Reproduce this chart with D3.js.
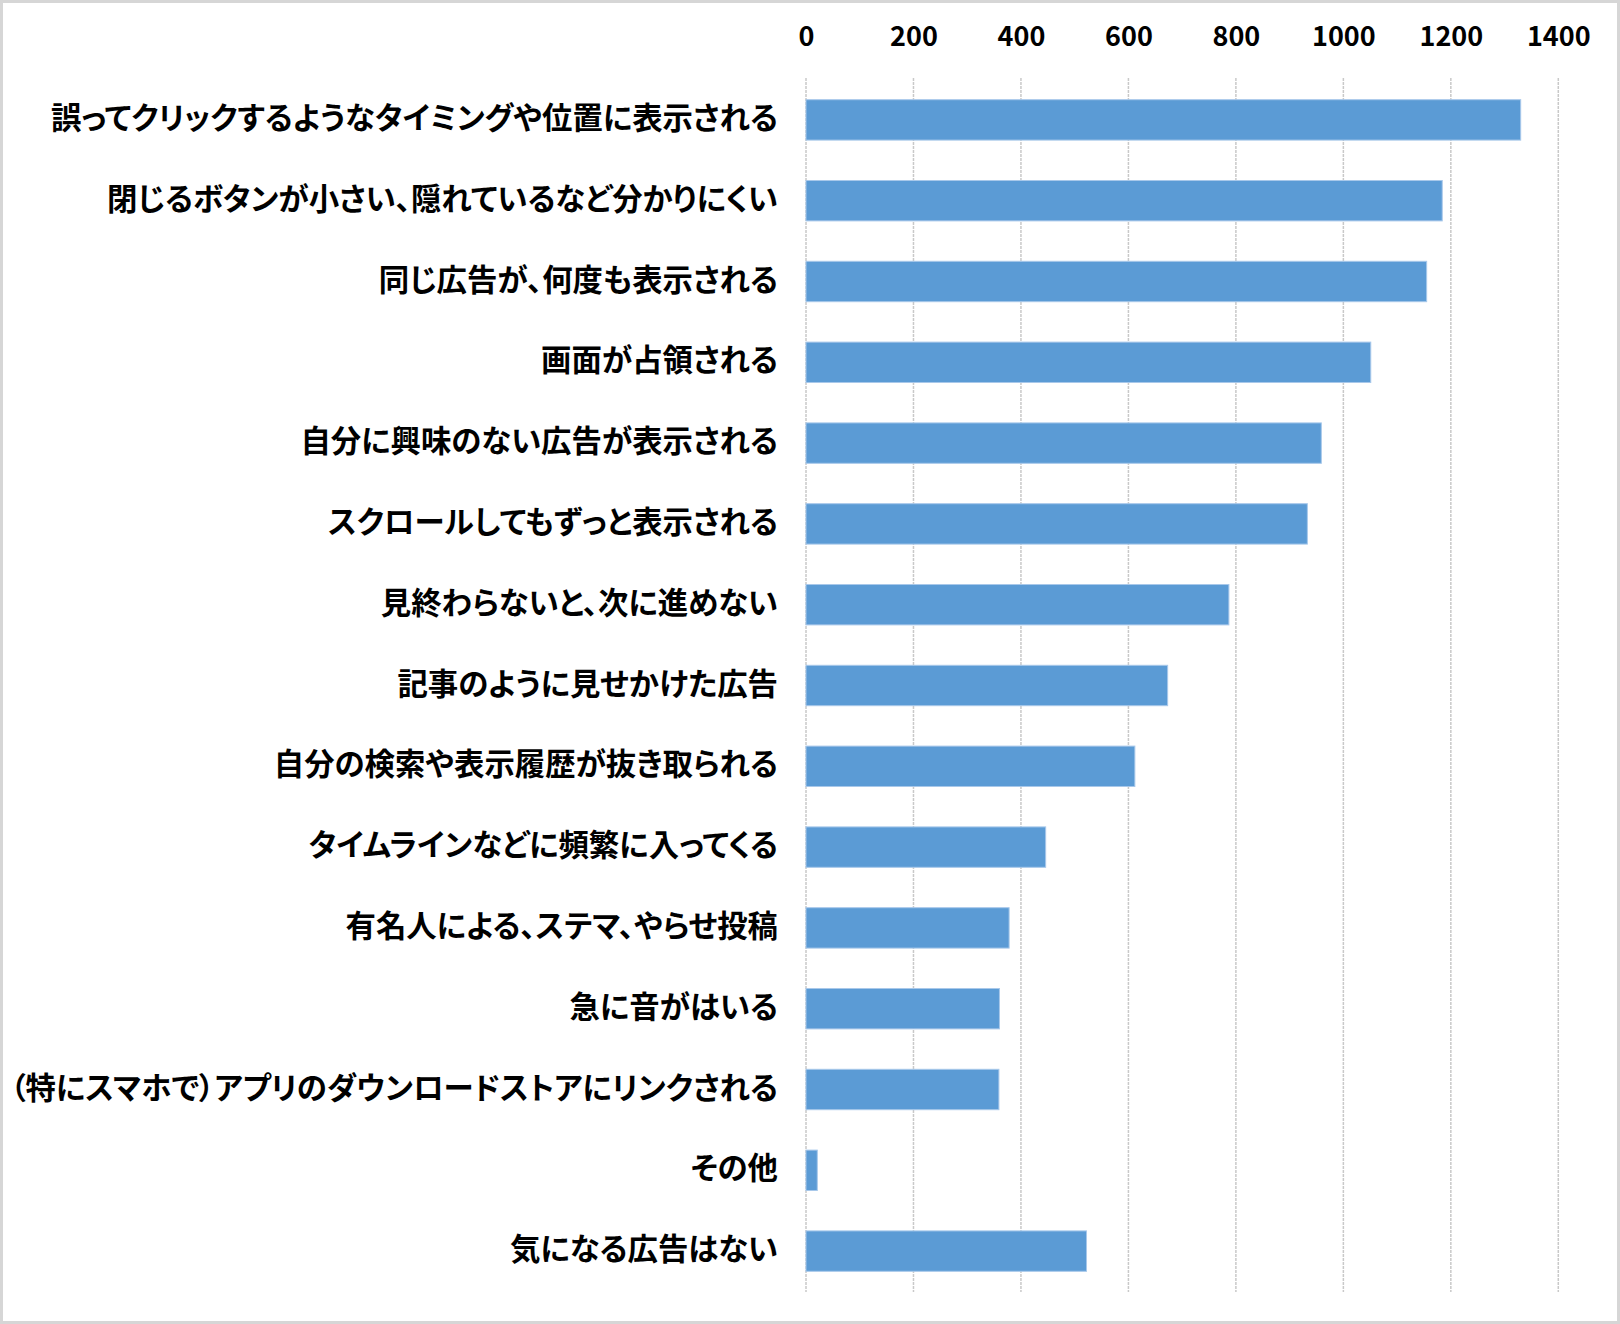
<!DOCTYPE html>
<html>
<head>
<meta charset="utf-8">
<script src="https://cdn.jsdelivr.net/npm/d3@7"></script>
<style>
  body { margin: 0; background: #fff; }
  svg text { font-family: "Noto Sans CJK JP", "Noto Sans", sans-serif; font-weight: bold; fill: #000; }
  .cat text { font-feature-settings: "palt"; }
</style>
</head>
<body>
<svg id="chart" width="1620" height="1324"></svg>
<script>
// categories, top to bottom
var categories = [
  "誤ってクリックするようなタイミングや位置に表示される",
  "閉じるボタンが小さい、隠れているなど分かりにくい",
  "同じ広告が、何度も表示される",
  "画面が占領される",
  "自分に興味のない広告が表示される",
  "スクロールしてもずっと表示される",
  "見終わらないと、次に進めない",
  "記事のように見せかけた広告",
  "自分の検索や表示履歴が抜き取られる",
  "タイムラインなどに頻繁に入ってくる",
  "有名人による、ステマ、やらせ投稿",
  "急に音がはいる",
  "（特にスマホで）アプリのダウンロードストアにリンクされる",
  "その他",
  "気になる広告はない"
];
var counts = [1330, 1184, 1155, 1051, 959, 933, 787, 673, 612, 446, 378, 360, 359, 21, 522];
var tickValues = [0, 200, 400, 600, 800, 1000, 1200, 1400];

var svg = d3.select("#chart"),
    width = +svg.attr("width"),
    height = +svg.attr("height");

// outer frame
svg.append("rect")
    .attr("x", 1.5).attr("y", 1.5)
    .attr("width", width - 3).attr("height", height - 3)
    .attr("fill", "#fff")
    .attr("stroke", "#d6d6d6")
    .attr("stroke-width", 3);

var x = d3.scaleLinear().domain([0, 1400]).range([806, 1558.3]);
var y = d3.scaleBand().domain(categories).range([79.5, 1291.5]).paddingInner(0.5).paddingOuter(0.25);

// gridlines
svg.append("g")
    .attr("class", "grid")
  .selectAll("line")
  .data(tickValues)
  .enter().append("line")
    .attr("x1", function(d) { return x(d); })
    .attr("x2", function(d) { return x(d); })
    .attr("y1", 78)
    .attr("y2", 1292)
    .attr("stroke", "#c9c9c9")
    .attr("stroke-width", 1.5)
    .attr("stroke-dasharray", "3,1");

// top axis labels
var xAxis = svg.append("g")
    .attr("transform", "translate(0,36)")
    .call(d3.axisTop(x).tickValues(tickValues).tickSize(0).tickPadding(0).tickFormat(d3.format("d")));
xAxis.select(".domain").remove();
xAxis.selectAll("text")
    .attr("dy", "0.36em")
    .style("font-size", "27px")
    .style("font-family", "'Noto Sans CJK JP', sans-serif")
    .style("font-weight", "bold")
    .attr("fill", "#000");

// bars
svg.append("g")
    .attr("class", "bars")
  .selectAll("rect")
  .data(counts)
  .enter().append("rect")
    .attr("x", x(0))
    .attr("y", function(d, i) { return y(categories[i]); })
    .attr("width", function(d) { return x(d) - x(0); })
    .attr("height", y.bandwidth())
    .attr("fill", "#5b9bd5")
    .attr("stroke", "#a8c8ea")
    .attr("stroke-width", 1);

// category labels
var yAxis = svg.append("g")
    .attr("class", "cat")
    .attr("transform", "translate(" + (x(0) - 28) + ",0)")
    .call(d3.axisLeft(y).tickSize(0).tickPadding(0));
yAxis.select(".domain").remove();
yAxis.selectAll("text")
    .attr("dy", "0.3em")
    .style("font-size", "30.4px")
    .style("font-family", "'Noto Sans CJK JP', sans-serif")
    .style("font-weight", "bold")
    .attr("fill", "#000");
</script>
</body>
</html>
